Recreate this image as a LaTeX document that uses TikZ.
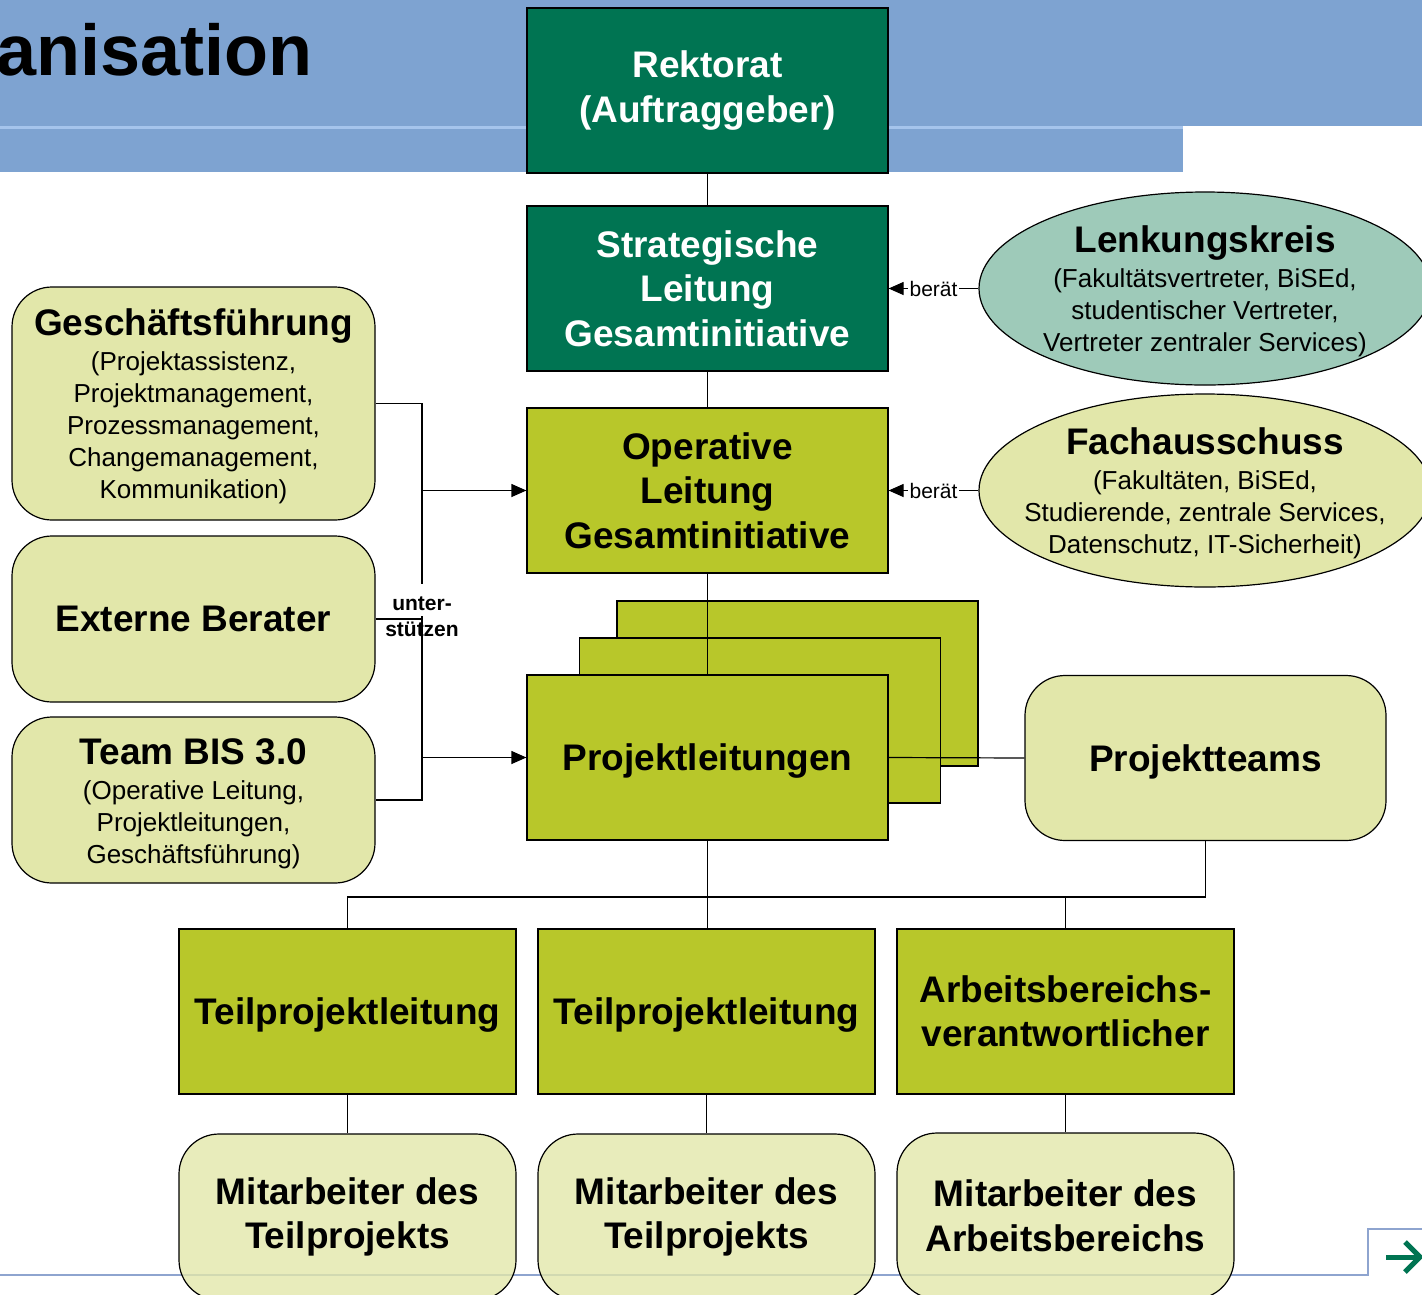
\documentclass[tikz,border=0pt]{standalone}
\usepackage{fontspec}
\setmainfont{Liberation Sans}
\usetikzlibrary{arrows.meta,shapes.geometric}
\definecolor{dgreen}{RGB}{0,116,82}
\definecolor{lime}{RGB}{184,199,42}
\definecolor{pale}{RGB}{226,231,170}
\definecolor{teal}{RGB}{158,202,185}
\definecolor{barblue}{RGB}{126,163,209}
\definecolor{barlight}{RGB}{165,196,236}
\definecolor{bline}{RGB}{142,164,207}
\newcommand\subf{\fontsize{26}{32}\selectfont\mdseries}
\newcommand\titf{\fontsize{37}{44.5}\selectfont\bfseries}
\pgfdeclarelayer{bg}
\pgfdeclarelayer{mid}
\pgfsetlayers{bg,mid,main}
\begin{document}
\begin{tikzpicture}[x=1pt,y=-1pt,
  base/.style={draw=black, line width=1.2pt, align=center, inner sep=0pt,
    minimum width=361pt, minimum height=165pt, font=\titf},
  darkbox/.style={base, fill=dgreen, text=white},
  limebox/.style={base, fill=lime, text=black},
  softbox/.style={base, fill=pale, rounded corners=40pt},
  oval/.style={ellipse, draw=black, line width=1.2pt, inner sep=0pt,
    minimum width=452pt, minimum height=193pt},
  ovaltext/.style={align=center, inner sep=0pt, font=\subf},
  conn/.style={draw=black, line width=1.2pt},
  arr/.style={conn, -{Triangle[length=15pt,width=13pt]}},
  lbl/.style={fill=white, inner sep=1.5pt, font=\fontsize{21}{24}\selectfont},
  flat/.style={text depth=0pt}
]
\useasboundingbox (0,0) rectangle (1422,1294);
% header bar
\fill[barblue] (0,0) rectangle (1422,126);
\fill[barlight] (0,126) rectangle (1183,129);
\fill[barblue] (0,129) rectangle (1183,172);
\node[anchor=base east, inner sep=0pt, font=\fontsize{72}{80}\selectfont\bfseries] (head) at (313,75) {anisation};

% top column
\node[darkbox] (rek) at (707.5,90.5) {Rektorat\\(Auftraggeber)};
\node[darkbox] (str) at (707.5,288.5) {Strategische\\Leitung\\Gesamtinitiative};
\node[limebox] (op) at (707.5,490.5) {Operative\\Leitung\\Gesamtinitiative};

% stacked project boxes
\begin{pgfonlayer}{bg}
\node[limebox] (pl3) at (797.5,683.5) {};
\node[limebox] (pl2) at (760,720.5) {};
\end{pgfonlayer}
\node[limebox, flat] (pl) at (707.5,757.5) {Projektleitungen};
\begin{pgfonlayer}{mid}
\draw[conn] (op.south) -- (pl.north);
\end{pgfonlayer}

% ellipses
\node[oval, fill=teal] (lenk) at (1205,288.5) {};
\node[ovaltext] (lenkT) at (1205,291) {{\titf Lenkungskreis}\\[3pt](Fakultätsvertreter, BiSEd,\\studentischer Vertreter,\\Vertreter zentraler Services)};
\node[oval, fill=pale] (fach) at (1205,490.5) {};
\node[ovaltext] (fachT) at (1205,493) {{\titf Fachausschuss}\\[3pt](Fakultäten, BiSEd,\\Studierende, zentrale Services,\\Datenschutz, IT-Sicherheit)};

% left boxes
\node[softbox, minimum width=363pt, minimum height=233pt] (gf) at (193.5,403.5) {};
\node[ovaltext] (gfT) at (193.5,406.5)
  {{\titf Geschäftsführung}\\[3pt](Projektassistenz,\\Projektmanagement,\\Prozessmanagement,\\Changemanagement,\\Kommunikation)};
\node[softbox, minimum width=363pt, minimum height=166pt] (eb) at (193.5,619) {Externe Berater};
\node[softbox, minimum width=363pt, minimum height=166pt] (tb) at (193.5,800) {};
\node[ovaltext] (tbT) at (193.5,803.5)
  {{\titf Team BIS 3.0}\\[3pt](Operative Leitung,\\Projektleitungen,\\Geschäftsführung)};

% project teams
\node[softbox, flat] (pt) at (1205.5,758) {Projektteams};

% lower level
\node[limebox, flat, minimum width=337pt] (tp1) at (347.5,1011.5) {Teilprojektleitung};
\node[limebox, flat, minimum width=337pt] (tp2) at (706.5,1011.5) {Teilprojektleitung};
\node[limebox, minimum width=337pt] (ab) at (1065.5,1011.5) {Arbeitsbereichs-\\verantwortlicher};

% bottom line (under the bottom boxes)
\draw[line width=2.5pt, color=bline] (0,1275) -- (1368,1275) -- (1368,1229) -- (1422,1229);
\draw[line width=5pt, dgreen] (1386,1257) -- (1419,1257);
\draw[line width=5pt, dgreen, line join=miter] (1405,1242) -- (1420,1257) -- (1405,1272);

\node[softbox, minimum width=337pt, minimum height=166pt, fill opacity=0.8, text opacity=1] (ma1) at (347.5,1217) {Mitarbeiter des\\Teilprojekts};
\node[softbox, minimum width=337pt, minimum height=166pt, fill opacity=0.8, text opacity=1] (ma2) at (706.5,1217) {Mitarbeiter des\\Teilprojekts};
\node[softbox, minimum width=337pt, minimum height=166pt, fill opacity=0.8, text opacity=1] (ma3) at (1065.5,1216) {Mitarbeiter des\\Arbeitsbereichs};

% connectors
\draw[conn] (rek.south) -- (str.north);
\draw[conn] (str.south) -- (op.north);
\draw[arr] (lenk.west) -- node[lbl] {berät} (str.east);
\draw[arr] (fach.west) -- node[lbl] {berät} (op.east);

\coordinate (busx) at (422,0);
\draw[conn] (gf.east) -- (gf.east -| busx) |- (tb.east);
\fill[white] (389,584) rectangle (455,616);
\draw[conn] (eb.east) -- (eb.east -| busx);
\node[font=\fontsize{21}{26}\selectfont\bfseries, align=center, inner sep=0pt] (ulbl) at (422,617) {unter-\\stützen};
\draw[arr] (op.west -| busx) -- (op.west);
\draw[arr] (pl.west -| busx) -- (pl.west);

\draw[conn] (pl.east) -- (pt.west);

\coordinate (busy) at (0,897);
\draw[conn] (pl.south) -- (pl.south |- tp2.north);
\draw[conn] (tp1.north) -- (tp1.north |- busy) -- (ab.north |- busy) -- (ab.north);
\draw[conn] (pt.south) -- (pt.south |- busy) -- (pl.south |- busy);

\draw[conn] (tp1.south) -- (ma1.north);
\draw[conn] (tp2.south) -- (ma2.north);
\draw[conn] (ab.south) -- (ma3.north);
\end{tikzpicture}
\end{document}
